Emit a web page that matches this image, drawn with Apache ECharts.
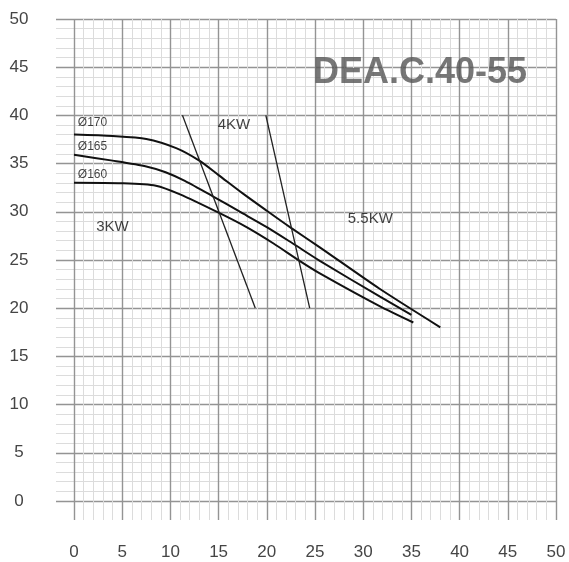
<!DOCTYPE html>
<html>
<head>
<meta charset="utf-8">
<script src="https://cdn.jsdelivr.net/npm/echarts@6/dist/echarts.min.js"></script>
<style>html,body{margin:0;padding:0;background:#fff;}#c{width:569px;height:562px;}</style>
</head>
<body>
<div id="c"></div>
<script>
// Pump curves (flow, head)
const curve170 = [[0,38.0],[4,37.85],[7.5,37.55],[10.6,36.6],[13,35.3],[15,33.8],[17.5,31.9],[20,30.1],[22.4,28.4],[25.5,26.3],[31.7,22.0],[38,18.0]];
const curve165 = [[0,35.9],[4,35.3],[7.5,34.7],[9.5,34.1],[11.5,33.2],[14.4,31.6],[17.2,30.0],[20,28.4],[22.7,26.7],[25.5,24.9],[31.7,21.2],[35,19.3]];
const curve160 = [[0,33.0],[5,32.95],[8.5,32.7],[11,31.8],[15,29.9],[17.9,28.4],[20.7,26.7],[23.4,24.9],[25.5,23.6],[31.7,20.2],[35.2,18.5]];
// Power boundary lines
const power3to4 = [[11.25,40],[18.8,20]];
const power4to55 = [[19.9,40],[24.45,20]];
// Annotations
const curveLabels = [['Ø170',0.4,39.2],['Ø165',0.4,36.7],['Ø160',0.4,33.8]];
const powerLabels = [['3KW',2.3,28.45],['4KW',14.9,39.0],['5.5KW',28.4,29.3]];
const titleText = 'DEA.C.40-55';
const titlePos = [35.9,44.4];
const xTicks = [0,5,10,15,20,25,30,35,40,45,50];
const yTicks = [0,5,10,15,20,25,30,35,40,45,50];

const chart = echarts.init(document.getElementById('c'));
const major = {show:true, lineStyle:{color:'#949494', width:1.4}};
const minor = {show:true, lineStyle:{color:'#dcdcdc', width:1}};
const labelFont = {fontFamily:'Liberation Sans, Arial, sans-serif', fontSize:17, color:'#454545'};
const curveStyle = {color:'#111', width:2};
const powerStyle = {color:'#222', width:1.3};

function lineSeries(data, style, smooth){
  return {type:'line', xAxisIndex:1, yAxisIndex:1, data:data, showSymbol:false, symbol:'none',
    smooth:smooth, lineStyle:style, silent:true, z:5, animation:false};
}

chart.setOption({
  animation:false,
  grid:[
    {left:56, right:13, top:19, bottom:61},
    {left:74, right:13, top:19, bottom:42}
  ],
  xAxis:[
    {gridIndex:0, type:'value', min:0, max:1, show:false},
    {gridIndex:1, type:'value', min:xTicks[0], max:xTicks[xTicks.length-1], interval:5,
      axisLine:{show:false}, axisTick:{show:false},
      minorTick:{show:false, splitNumber:5},
      splitLine:major, minorSplitLine:minor,
      axisLabel:Object.assign({margin:24}, labelFont)}
  ],
  yAxis:[
    {gridIndex:0, type:'value', min:yTicks[0], max:yTicks[yTicks.length-1], interval:5,
      axisLine:{show:false, onZero:false}, axisTick:{show:false},
      minorTick:{show:false, splitNumber:5},
      splitLine:major, minorSplitLine:minor,
      axisLabel:Object.assign({margin:37, align:'center'}, labelFont)},
    {gridIndex:1, type:'value', min:-2, max:50, show:false, splitLine:{show:false}}
  ],
  series:[
    lineSeries(curve170, curveStyle, 0.25),
    lineSeries(curve165, curveStyle, 0.25),
    lineSeries(curve160, curveStyle, 0.25),
    lineSeries(power3to4, powerStyle, false),
    lineSeries(power4to55, powerStyle, false),
    {type:'scatter', xAxisIndex:1, yAxisIndex:1, symbolSize:0, silent:true, z:6,
      data:curveLabels.map(d=>({name:d[0], value:[d[1],d[2]]})),
      label:{show:true, position:'right', distance:0, formatter:'{b}',
        fontFamily:'Liberation Sans, Arial, sans-serif', fontSize:12, color:'#111'}},
    {type:'scatter', xAxisIndex:1, yAxisIndex:1, symbolSize:0, silent:true, z:6,
      data:powerLabels.map(d=>({name:d[0], value:[d[1],d[2]]})),
      label:{show:true, position:'right', distance:0, formatter:'{b}',
        fontFamily:'Liberation Sans, Arial, sans-serif', fontSize:15, color:'#111'}},
    {type:'scatter', xAxisIndex:1, yAxisIndex:1, symbolSize:0, silent:true, z:6,
      data:[{name:titleText, value:titlePos}],
      label:{show:true, position:'inside', formatter:'{b}',
        fontFamily:'Liberation Sans, Arial, sans-serif', fontSize:36, fontWeight:'bold', color:'#555'}}
  ]
});
</script>
</body>
</html>
